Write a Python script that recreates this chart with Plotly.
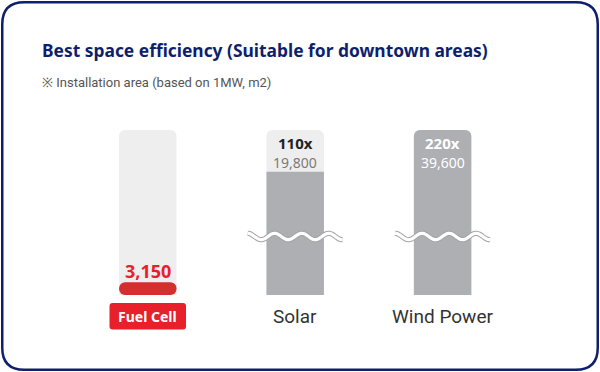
import numpy as np
import plotly.graph_objects as go

# ---- data ----
categories = ["Fuel Cell", "Solar", "Wind Power"]
area_m2 = [3150, 19800, 39600]
multiple_labels = ["", "110x", "220x"]
value_labels = ["3,150", "19,800", "39,600"]
axis_floor = 2550  # baseline of the (broken) log axis

title_text = "Best space efficiency (Suitable for downtown areas)"
subtitle_text = "※ Installation area (based on 1MW, m2)"

# ---- helpers (pixel -> paper) ----
W, H = 600, 372
def fx(x):
    return x / W
def fy(y):
    return 1 - y / H

NAVY = "#0e1f6d"
RED = "#e8202a"
x_idx = list(range(len(categories)))
col_max = [max(area_m2)] * len(categories)
bar_w = 0.39

fig = go.Figure()
fig.add_trace(go.Bar(
    x=x_idx, y=col_max, width=bar_w,
    marker=dict(color="#eeeeee", line=dict(width=0), cornerradius=6),
    hoverinfo="skip", cliponaxis=False,
))
# gray bars (Solar, Wind)
fig.add_trace(go.Bar(
    x=x_idx[1:], y=area_m2[1:], width=bar_w,
    marker=dict(color="#aeafb2", line=dict(width=0), cornerradius=6),
    hoverinfo="skip", cliponaxis=False,
))
# red bar (Fuel Cell), with a finite base so its rounded end shows
fig.add_trace(go.Bar(
    x=x_idx[:1], y=[area_m2[0] - axis_floor], base=[axis_floor], width=bar_w,
    marker=dict(color="#d42e2e", line=dict(width=0), cornerradius=6),
    hoverinfo="skip", cliponaxis=False,
))

shapes = []
# outer rounded border
x0, x1, y0, y1, r = 2.25, 597.75, 2.25, 369.75, 22
p = (f"M {fx(x0+r)} {fy(y0)} L {fx(x1-r)} {fy(y0)} Q {fx(x1)} {fy(y0)} {fx(x1)} {fy(y0+r)} "
     f"L {fx(x1)} {fy(y1-r)} Q {fx(x1)} {fy(y1)} {fx(x1-r)} {fy(y1)} "
     f"L {fx(x0+r)} {fy(y1)} Q {fx(x0)} {fy(y1)} {fx(x0)} {fy(y1-r)} "
     f"L {fx(x0)} {fy(y0+r)} Q {fx(x0)} {fy(y0)} {fx(x0+r)} {fy(y0)} Z")
shapes.append(dict(type="path", xref="paper", yref="paper", path=p,
                   line=dict(color=NAVY, width=2.5), fillcolor="rgba(0,0,0,0)", layer="below"))

# Fuel Cell label box
bx0, bx1, by0, by1, br = 109.5, 186, 303, 329.5, 3
p = (f"M {fx(bx0+br)} {fy(by0)} L {fx(bx1-br)} {fy(by0)} Q {fx(bx1)} {fy(by0)} {fx(bx1)} {fy(by0+br)} "
     f"L {fx(bx1)} {fy(by1-br)} Q {fx(bx1)} {fy(by1)} {fx(bx1-br)} {fy(by1)} "
     f"L {fx(bx0+br)} {fy(by1)} Q {fx(bx0)} {fy(by1)} {fx(bx0)} {fy(by1-br)} "
     f"L {fx(bx0)} {fy(by0+br)} Q {fx(bx0)} {fy(by0)} {fx(bx0+br)} {fy(by0)} Z")
shapes.append(dict(type="path", xref="paper", yref="paper", path=p,
                   line=dict(width=0), fillcolor=RED))

# axis-break waves
def wave_path(cx, cy, half=47.5, amp=3.2, period=27.0):
    xs = np.linspace(cx - half, cx + half, 80)
    ys = cy - amp * np.cos(2 * np.pi * (xs - (cx - half)) / period)
    return "M " + " L ".join(f"{fx(a):.5f} {fy(b):.5f}" for a, b in zip(xs, ys))

for cx in (295.2, 442.6):
    wp = wave_path(cx, 236.5)
    shapes.append(dict(type="path", xref="paper", yref="paper", path=wp,
                       line=dict(color="#a4a4a4", width=5.2)))
    shapes.append(dict(type="path", xref="paper", yref="paper", path=wp,
                       line=dict(color="#ffffff", width=3.2)))

annotations = []
annotations.append(dict(text=f"<b>{title_text}</b>", x=fx(40), y=fy(50), xref="paper", yref="paper",
                        xanchor="left", yanchor="middle", showarrow=False,
                        font=dict(family="Noto Sans", size=17.4, color=NAVY)))
annotations.append(dict(text=subtitle_text, x=fx(40), y=fy(82), xref="paper", yref="paper",
                        xanchor="left", yanchor="middle", showarrow=False,
                        font=dict(family="Roboto", size=13, color="#555555")))

# Fuel cell value
annotations.append(dict(text=f"<b>{value_labels[0]}</b>", x=0, y=fy(270.5), xref="x", yref="paper",
                        xanchor="center", yanchor="middle", showarrow=False,
                        font=dict(family="Noto Sans", size=18, color=RED)))
annotations.append(dict(text=f"<b>{categories[0]}</b>", x=0, y=fy(316.5), xref="x", yref="paper",
                        xanchor="center", yanchor="middle", showarrow=False,
                        font=dict(family="Noto Sans", size=14, color="#ffffff")))

mult_colors = {1: ("#222222", "#7a7a7a"), 2: ("#ffffff", "#ffffff")}
for i in (1, 2):
    c1, c2 = mult_colors[i]
    annotations.append(dict(text=f"<b>{multiple_labels[i]}</b>", x=i, y=fy(143), xref="x", yref="paper",
                            xanchor="center", yanchor="middle", showarrow=False,
                            font=dict(family="Noto Sans", size=15, color=c1)))
    annotations.append(dict(text=value_labels[i], x=i, y=fy(162), xref="x", yref="paper",
                            xanchor="center", yanchor="middle", showarrow=False,
                            font=dict(family="Noto Sans", size=14, color=c2)))
    annotations.append(dict(text=categories[i], x=i, y=fy(316.5), xref="x", yref="paper",
                            xanchor="center", yanchor="middle", showarrow=False,
                            font=dict(family="Roboto", size=19, color="#333333")))

fig.update_layout(
    width=W, height=H,
    margin=dict(l=0, r=0, t=0, b=0),
    paper_bgcolor="#ffffff", plot_bgcolor="rgba(0,0,0,0)",
    barmode="overlay",
    showlegend=False,
    xaxis=dict(domain=[fx(74.1), fx(516.3)], range=[-0.5, 2.5], visible=False, fixedrange=True),
    yaxis=dict(domain=[fy(295), fy(130)], type="log",
               range=[np.log10(axis_floor), np.log10(max(area_m2))],
               visible=False, fixedrange=True),
    shapes=shapes,
    annotations=annotations,
)

fig.write_html("out.html", config={"displayModeBar": False},
               post_script="document.body.style.margin='0';document.body.style.overflow='hidden';")
